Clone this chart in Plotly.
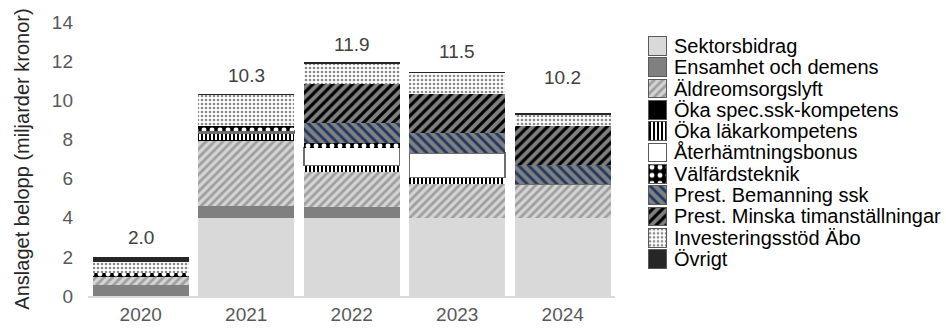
import plotly.graph_objects as go

years = ["2020", "2021", "2022", "2023", "2024"]

series_names = [
    "Sektorsbidrag",
    "Ensamhet och demens",
    "Äldreomsorgslyft",
    "Öka spec.ssk-kompetens",
    "Öka läkarkompetens",
    "Återhämtningsbonus",
    "Välfärdsteknik",
    "Prest. Bemanning ssk",
    "Prest. Minska timanställningar",
    "Investeringsstöd Äbo",
    "Övrigt",
]

sektorsbidrag = [0.0, 4.0, 4.0, 4.0, 4.0]
ensamhet = [0.56, 0.6, 0.56, 0.0, 0.0]
aldreomsorgslyft = [0.43, 3.33, 1.76, 1.71, 1.71]
oka_spec_ssk = [0.0, 0.05, 0.0, 0.0, 0.0]
oka_lakar = [0.0, 0.34, 0.34, 0.34, 0.0]
aterhamtning = [0.0, 0.1, 0.92, 1.25, 0.0]
valfardsteknik = [0.17, 0.28, 0.22, 0.0, 0.0]
bemanning_ssk = [0.0, 0.0, 1.02, 1.02, 0.99]
minska_tim = [0.0, 0.0, 2.0, 2.0, 2.01]
investeringsstod = [0.6, 1.57, 1.08, 1.08, 0.55]
ovrigt = [0.22, 0.04, 0.04, 0.04, 0.04]

total_labels = [2.0, 10.3, 11.9, 11.5, 10.2]

series_values = [sektorsbidrag, ensamhet, aldreomsorgslyft, oka_spec_ssk, oka_lakar,
                 aterhamtning, valfardsteknik, bemanning_ssk, minska_tim,
                 investeringsstod, ovrigt]

# styles: (color, pattern shape, fg, bg, size, solidity, line color, line width)
styles = [
    ("#d9d9d9", "", None, None, 8, 0.3, None, 0),
    ("#808080", "", None, None, 8, 0.3, None, 0),
    ("#cdcdcd", "/", "#9e9e9e", "#d4d4d4", 6, 0.45, None, 0),
    ("#000000", "", None, None, 8, 0.3, None, 0),
    ("#ffffff", "|", "#000000", "#ffffff", 4, 0.5, None, 0),
    ("#ffffff", "", None, None, 8, 0.3, "#6e6e6e", 1.5),
    ("#000000", ".", "#ffffff", "#000000", 8, 0.3, None, 0),
    ("#808080", "\\", "#1f3864", "#808080", 7, 0.4, None, 0),
    ("#808080", "/", "#000000", "#808080", 7, 0.45, None, 0),
    ("#ffffff", ".", "#8a8a8a", "#ffffff", 4, 0.35, None, 0),
    ("#262626", "", None, None, 8, 0.3, None, 0),
]

FONT = "Liberation Sans, Arial, sans-serif"
fig = go.Figure()


def make_marker(st, legend=False):
    color, shape, fg, bg, size, sol, lc, lw = st
    if legend:
        marker = dict(color=color, line=dict(width=1, color="#595959"))
    else:
        marker = dict(color=color, line=dict(width=lw, color=lc or color))
    if shape:
        marker["pattern"] = dict(shape=shape, fgcolor=fg, bgcolor=bg, size=size,
                                 solidity=sol, fillmode="replace")
    return marker


for name, vals, st in zip(series_names, series_values, styles):
    fig.add_trace(go.Bar(x=years, y=vals, name=name, marker=make_marker(st),
                         showlegend=False, hoverinfo="x+y+name"))

# custom legend drawn as small bars on auxiliary axes
for name, st in zip(series_names, styles):
    fig.add_trace(go.Bar(
        y=[name], x=[1], orientation="h", width=0.88, xaxis="x2", yaxis="y2",
        showlegend=False, hoverinfo="skip", marker=make_marker(st, legend=True),
    ))

for i, tot in enumerate(total_labels):
    fig.add_annotation(x=i, y=tot, xref="x", yref="y", text=f"{tot:.1f}",
                       showarrow=False, yanchor="middle", yshift=19,
                       font=dict(family=FONT, size=19, color="#404040"))

fig.update_layout(
    width=946, height=329,
    margin=dict(l=88, r=0, t=22, b=33),
    barmode="stack", bargap=0.093,
    plot_bgcolor="white", paper_bgcolor="white",
    font=dict(family=FONT, size=19, color="#595959"),
    xaxis=dict(domain=[0, 0.6148], type="category", range=[-0.5, 4.5],
               showline=True, linecolor="#d9d9d9", linewidth=1.5, ticks="",
               showgrid=False, tickfont=dict(size=19, color="#595959")),
    yaxis=dict(range=[0, 14], dtick=2, showgrid=False, zeroline=False,
               showline=False, ticks="", ticklabelstandoff=14,
               tickfont=dict(size=19, color="#595959"),
               title=dict(text="Anslaget belopp (miljarder kronor)",
                          font=dict(size=20, color="#262626"), standoff=16)),
    xaxis2=dict(domain=[0.6527, 0.6748], range=[0, 1], visible=False,
                anchor="y2", fixedrange=True),
    yaxis2=dict(domain=[0.0962, 0.9513], anchor="x2", type="category",
                categoryorder="array", categoryarray=series_names,
                range=[len(series_names) - 0.5, -0.5],
                tickmode="array", tickvals=series_names, ticktext=series_names,
                side="right", showgrid=False,
                zeroline=False, showline=False, ticks="", ticklabelstandoff=6,
                tickfont=dict(size=20, color="#000000"), fixedrange=True),
)

fig.write_html("out.html")
